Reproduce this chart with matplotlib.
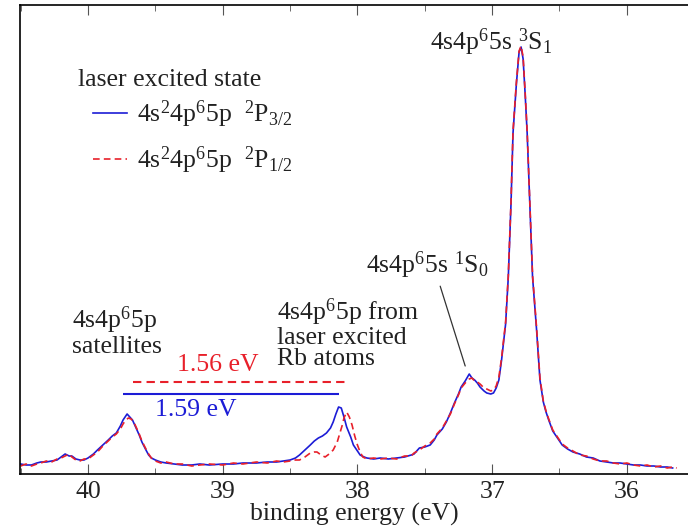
import matplotlib
matplotlib.use("Agg")
import matplotlib.pyplot as plt
import numpy as np

plt.rcParams['font.family'] = ['Liberation Serif', 'DejaVu Serif']
plt.rcParams['mathtext.fontset'] = 'custom'
plt.rcParams['mathtext.rm'] = 'Liberation Serif'
plt.rcParams['mathtext.it'] = 'Liberation Serif:italic'
plt.rcParams['mathtext.default'] = 'rm'

# binding energy (eV) and intensity (arb. units)
e_p32 = [40.50, 40.46, 40.42, 40.38, 40.35, 40.31, 40.27, 40.23, 40.20, 40.17,
         40.14, 40.12, 40.09, 40.06, 40.03, 40.00, 39.96, 39.93, 39.89, 39.85,
         39.82, 39.79, 39.76, 39.74, 39.72, 39.71, 39.69, 39.67, 39.65, 39.62,
         39.60, 39.57, 39.55, 39.53, 39.50, 39.46, 39.42, 39.36, 39.30, 39.23,
         39.17, 39.10, 39.00, 38.92, 38.85, 38.75, 38.67, 38.60, 38.55, 38.50,
         38.46, 38.43, 38.39, 38.35, 38.32, 38.29, 38.26, 38.23, 38.20, 38.18,
         38.16, 38.14, 38.12, 38.10, 38.08, 38.05, 38.03, 38.00, 37.98, 37.95,
         37.93, 37.88, 37.83, 37.77, 37.71, 37.65, 37.60, 37.58, 37.54, 37.50,
         37.46, 37.43, 37.41, 37.37, 37.34, 37.31, 37.28, 37.25, 37.23, 37.20,
         37.17, 37.15, 37.13, 37.11, 37.09, 37.06, 37.04, 37.01, 36.99, 36.97,
         36.95, 36.93, 36.90, 36.88, 36.86, 36.845, 36.82, 36.80, 36.785, 36.77,
         36.755, 36.74, 36.72, 36.70, 36.67, 36.645, 36.62, 36.60, 36.58, 36.55,
         36.53, 36.50, 36.48, 36.44, 36.40, 36.35, 36.30, 36.25, 36.20, 36.15,
         36.10, 36.05, 36.00, 35.95, 35.90, 35.85, 35.80, 35.75, 35.70, 35.66]
i_p32 = [10, 9, 9, 11, 12, 12, 13, 14, 17, 20,
         18, 18, 15, 14, 14, 16, 20, 24, 29, 34,
         38, 41, 48, 54, 58, 60, 57, 54, 48, 39,
         32, 24, 19, 16, 14, 12, 11, 10, 9, 9,
         10, 9, 10, 10, 11, 11, 12, 12, 13, 14,
         16, 19, 24, 29, 33, 36, 38, 41, 46, 52,
         60, 67, 66, 57, 47, 37, 29, 23, 19, 17,
         16, 15, 16, 15, 16, 17, 19, 20, 26, 27,
         29, 34, 39, 45, 52, 61, 71, 80, 87, 93,
         100, 96, 94, 91, 87, 83, 81, 80, 81, 86,
         94, 114, 150, 197, 270, 341, 390, 422, 427, 415,
         380, 341, 270, 197, 144, 94, 72, 62, 54, 43,
         39, 33, 29, 25, 22, 20, 17, 16, 13, 12,
         11, 11, 10, 9, 9, 8, 8, 7, 7, 6]

e_p12 = [40.50, 40.46, 40.42, 40.38, 40.35, 40.31, 40.27, 40.23, 40.20, 40.17,
         40.14, 40.12, 40.09, 40.06, 40.03, 40.00, 39.96, 39.93, 39.89, 39.85,
         39.82, 39.79, 39.76, 39.74, 39.72, 39.70, 39.68, 39.66, 39.64, 39.62,
         39.60, 39.57, 39.55, 39.53, 39.50, 39.46, 39.42, 39.36, 39.30, 39.23,
         39.17, 39.10, 39.00, 38.92, 38.85, 38.75, 38.67, 38.60, 38.55, 38.50,
         38.46, 38.43, 38.39, 38.35, 38.32, 38.30, 38.27, 38.24, 38.21, 38.18,
         38.15, 38.13, 38.11, 38.10, 38.08, 38.06, 38.04, 38.02, 38.00, 37.98,
         37.96, 37.93, 37.88, 37.83, 37.77, 37.71, 37.65, 37.60, 37.58, 37.54,
         37.50, 37.46, 37.43, 37.41, 37.37, 37.34, 37.31, 37.28, 37.25, 37.23,
         37.20, 37.17, 37.15, 37.13, 37.11, 37.09, 37.06, 37.04, 37.01, 36.99,
         36.97, 36.95, 36.93, 36.90, 36.88, 36.86, 36.845, 36.82, 36.80, 36.785,
         36.77, 36.755, 36.74, 36.72, 36.70, 36.67, 36.645, 36.62, 36.60, 36.58,
         36.55, 36.53, 36.50, 36.48, 36.44, 36.40, 36.35, 36.30, 36.25, 36.20,
         36.15, 36.10, 36.05, 36.00, 35.95, 35.90, 35.85, 35.80, 35.75, 35.70,
         35.66, 35.63]
i_p12 = [8, 10, 8, 10, 11, 13, 12, 15, 16, 18,
         20, 17, 14, 13, 15, 15, 19, 22, 28, 33,
         37, 40, 45, 50, 54, 56, 55, 52, 46, 40,
         33, 25, 20, 16, 13, 11, 12, 10, 10, 8,
         9, 10, 9, 11, 10, 12, 11, 13, 12, 13,
         14, 14, 17, 21, 22, 22, 19, 17, 20, 24,
         32, 41, 50, 56, 62, 57, 49, 38, 29, 22,
         17, 15, 16, 15, 16, 15, 18, 18, 21, 24,
         28, 31, 35, 40, 46, 53, 60, 70, 79, 86,
         91, 95, 96, 93, 92, 90, 86, 85, 83, 84,
         88, 97, 116, 152, 199, 272, 343, 392, 423, 428,
         417, 382, 343, 272, 199, 146, 96, 73, 63, 55,
         44, 40, 34, 30, 26, 23, 19, 18, 15, 13,
         13, 11, 10, 11, 9, 8, 9, 7, 8, 6,
         7, 6]

# energy separations of the 4s4p6 5p lines
sep_p32 = [39.74, 38.137]
sep_p12 = [39.666, 38.092]

blue = '#1c1cd6'
red = '#e8202a'
fs = 18.5

fig = plt.figure(figsize=(6.88, 5.28), dpi=100)
ax = fig.add_axes([20 / 688, 54 / 528, 668 / 688, 469 / 528])

ax.plot(e_p32, i_p32, color=blue, lw=1.2, label=r'4s$^2$4p$^6$5p  $^2$P$_{3/2}$')
ax.plot(e_p12, i_p12, color=red, lw=1.2, ls=(0, (4, 2.5)),
        label=r'4s$^2$4p$^6$5p  $^2$P$_{1/2}$')

ax.hlines(92, sep_p12[0], sep_p12[1], color=red, lw=1.5, linestyles=(0, (4, 2.5)))
ax.hlines(80, sep_p32[0], sep_p32[1], color=blue, lw=1.5)
ax.text(39.04, 109, '1.56 eV', color=red, fontsize=fs, ha='center', va='center')
ax.text(39.20, 64, '1.59 eV', color=blue, fontsize=fs, ha='center', va='center')

tc = '#222222'
ax.text(40.12, 143, '4s4p$^6$5p\nsatellites', fontsize=fs, color=tc,
        ha='left', va='center', linespacing=1.0)
ax.text(38.60, 141, '4s4p$^6$5p from\nlaser excited\nRb atoms', fontsize=fs, color=tc,
        ha='left', va='center', linespacing=0.95)
ax.text(37.01, 432, '4s4p$^6$5s $^3$S$_1$', fontsize=fs, color=tc,
        ha='center', va='center')
ax.annotate('4s4p$^6$5s $^1$S$_0$', xy=(37.20, 108), xytext=(37.48, 209),
            fontsize=fs, color=tc, ha='center', va='center',
            arrowprops=dict(arrowstyle='-', color='#333333', lw=0.9,
                            relpos=(0.59, 0.0), shrinkA=2, shrinkB=0))

ax.text(40.074, 394, 'laser excited state', fontsize=fs, color=tc,
        ha='left', va='center')
leg = ax.legend(loc='upper left', bbox_to_anchor=(0.109, 0.80), frameon=False,
                fontsize=fs, handlelength=1.32, handletextpad=0.4,
                labelspacing=0.55, borderpad=0, borderaxespad=0, labelcolor=tc)

ax.set_xlim(40.505, 35.546)
ax.set_ylim(0, 469)
ax.set_yticks([])
ax.set_xticks([40, 39, 38, 37, 36])
ax.set_xticks([40.5, 39.5, 38.5, 37.5, 36.5], minor=True)
ax.tick_params(axis='x', which='both', direction='in', top=True,
               colors='#555555', labelcolor=tc, labelsize=fs, pad=5)
ax.tick_params(axis='x', which='major', length=7)
ax.tick_params(axis='x', which='minor', length=4.5)
ax.spines['right'].set_visible(False)
for s in ['left', 'top', 'bottom']:
    ax.spines[s].set_linewidth(1.2)
ax.set_xlabel('binding energy (eV)', fontsize=fs, color=tc, labelpad=0)

fig.savefig('out.png', dpi=100)
